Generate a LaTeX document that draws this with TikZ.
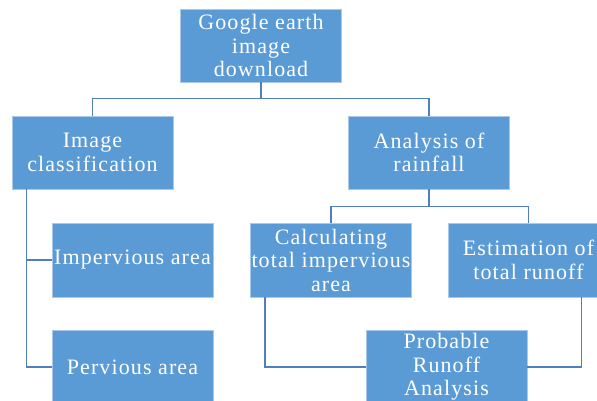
\documentclass[tikz,border=0pt]{standalone}
\usepackage{fontspec}
\newfontfamily\boxfont[LetterSpace=5]{Liberation Serif}
\definecolor{boxblue}{HTML}{5B9BD5}
\definecolor{boxedge}{HTML}{A9C8EA}
\definecolor{linkblue}{HTML}{4F80BD}
\begin{document}
\begin{tikzpicture}[x=1pt,y=-1pt,
  blk/.style={rectangle, fill=boxblue, draw=boxedge, line width=0.8pt,
    minimum width=161pt, minimum height=74pt, inner sep=0pt, align=center,
    text=white, font=\boxfont\fontsize{22}{23.5}\selectfont},
  link/.style={draw=linkblue, line width=1.5pt}]
\clip (0,0) rectangle (597,400);
\fill[white] (0,0) rectangle (597,400);
\node[blk, minimum height=73pt] (top) at (261,45.5) {Google earth\\image\\download};
\node[blk, minimum height=73pt] (cls) at (92.5,152.5) {Image\\classification};
\node[blk, minimum height=73pt] (rain) at (429,152.5) {Analysis of\\rainfall};
\node[blk] (imp) at (132.5,260) {Impervious area};
\node[blk] (per) at (132.5,367) {Pervious area};
\node[blk] (calc) at (331,260) {Calculating\\total impervious\\area};
\node[blk] (est) at (528.5,260) {Estimation of\\total runoff};
\node[blk] (prob) at (446.5,367) {Probable\\Runoff\\Analysis};
\path[link] (top.south) -- ++(0,16) coordinate (tj) -| (cls.north);
\path[link] (tj) -| (rain.north);
\path[link] (rain.south) -- ++(0,17) coordinate (rj) -| (calc.north);
\path[link] (rj) -| (est.north);
\coordinate (clsout) at ([xshift=15pt]cls.south west);
\path[link] (clsout) |- (imp.west);
\path[link] (clsout) |- (per.west);
\path[link] ([xshift=15pt]calc.south west) |- (prob.west);
\path[link] ([xshift=134pt]est.south west) |- (prob.east);
\end{tikzpicture}
\end{document}
